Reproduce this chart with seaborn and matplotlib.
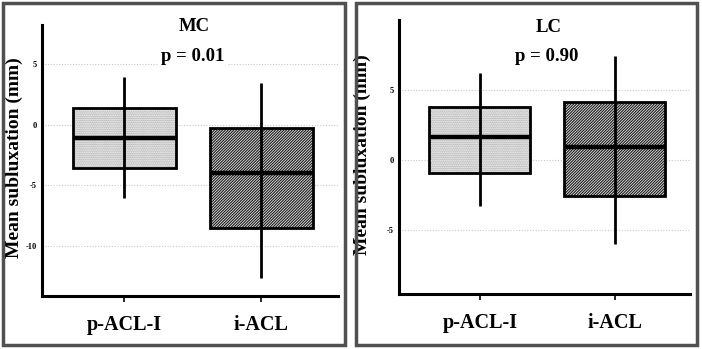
import matplotlib
matplotlib.use("Agg")
import matplotlib.pyplot as plt
import seaborn as sns
import pandas as pd
from matplotlib.colors import to_rgba
from matplotlib.patches import Rectangle

groups = ["p-ACL-I", "i-ACL"]
# five-number summaries: min, q1, median, q3, max
mc_pacl = [-6.0, -3.6, -1.07, 1.4, 3.96]
mc_iacl = [-12.6, -8.5, -4.0, -0.25, 3.4]
lc_pacl = [-3.3, -0.95, 1.6, 3.8, 6.2]
lc_iacl = [-6.0, -2.6, 0.9, 4.1, 7.4]

panels = ["MC", "LC"]
p_values = ["p = 0.01", "p = 0.90"]
y_ticks = [[-10, -5, 0, 5], [-5, 0, 5]]
y_limits = [(-14.1, 8.2), (-9.6, 10.0)]

fills = {"p-ACL-I": "#f0f0f0", "i-ACL": "#e6e6e6"}
hatches = ["." * 9, "/" * 12]
hatch_colors = ["#a8a8a8", "#1a1a1a"]

sns.set_theme(style="white")
plt.rcParams["font.family"] = ["Liberation Serif", "DejaVu Serif"]
plt.rcParams["font.weight"] = "bold"
plt.rcParams["axes.unicode_minus"] = False
plt.rcParams["text.color"] = "black"
plt.rcParams["axes.labelcolor"] = "black"
plt.rcParams["xtick.color"] = "black"
plt.rcParams["ytick.color"] = "black"
plt.rcParams["hatch.linewidth"] = 0.8

fig = plt.figure(figsize=(7.02, 3.49), dpi=100)
axes = [
    fig.add_axes([42 / 702, 53 / 349, 296 / 702, 271 / 349]),
    fig.add_axes([399 / 702, 55 / 349, 291 / 702, 274 / 349]),
]

data_sets = [(mc_pacl, mc_iacl), (lc_pacl, lc_iacl)]
label_x = [-0.064, -0.095]
title_y = [(0.993, 0.882), (0.974, 0.865)]

for k, ax in enumerate(axes):
    a, b = data_sets[k]
    df = pd.DataFrame({
        "group": [groups[0]] * len(a) + [groups[1]] * len(b),
        "value": a + b,
    })
    sns.boxplot(
        data=df, x="group", y="value", hue="group", palette=fills,
        order=groups, hue_order=groups, legend=False,
        whis=(0, 100), width=0.75, showcaps=False, linecolor="black",
        linewidth=2, medianprops={"linewidth": 3.2}, ax=ax,
    )
    for patch, h, hc in zip(ax.patches, hatches, hatch_colors):
        patch.set_hatch(h)
        patch._hatch_color = to_rgba(hc)
    # range line runs straight through each box
    summaries = [a, b]
    ax.vlines(range(2), [s[1] for s in summaries], [s[3] for s in summaries],
              color="black", lw=2, zorder=4)

    ax.set_xlim(-0.6, 1.56)
    ax.set_ylim(*y_limits[k])
    ax.set_yticks(y_ticks[k])
    ax.yaxis.grid(True, linestyle=(0, (1, 1.5)), color="#c8c8c8", lw=0.8)
    ax.set_axisbelow(True)
    for side in ["top", "right"]:
        ax.spines[side].set_visible(False)
    for side in ["left", "bottom"]:
        ax.spines[side].set_linewidth(2.2)
        ax.spines[side].set_color("black")
    ax.tick_params(axis="y", length=0, pad=4, labelsize=6)
    ax.tick_params(axis="x", length=4, width=1.2, direction="out",
                   bottom=True, pad=10, labelsize=14.5)
    ax.set_xlabel("")
    ax.set_ylabel("Mean subluxation (mm)", fontsize=14, fontweight="bold")
    ax.yaxis.set_label_coords(label_x[k], 0.51)

    ax.text(0.515, title_y[k][0], panels[k], transform=ax.transAxes,
            ha="center", va="center", fontsize=13.5, fontweight="bold")
    ax.text(0.508, title_y[k][1], p_values[k], transform=ax.transAxes,
            ha="center", va="center", fontsize=13.5, fontweight="bold",
            bbox=dict(facecolor="white", edgecolor="none", pad=2))

for x0, w in [(2.5, 342), (355.5, 341)]:
    fig.patches.append(Rectangle((x0 / 702, 4 / 349), w / 702, 342 / 349,
                                 transform=fig.transFigure, fill=False,
                                 edgecolor="#505050", linewidth=2.5))

fig.savefig("out.png", dpi=100)
